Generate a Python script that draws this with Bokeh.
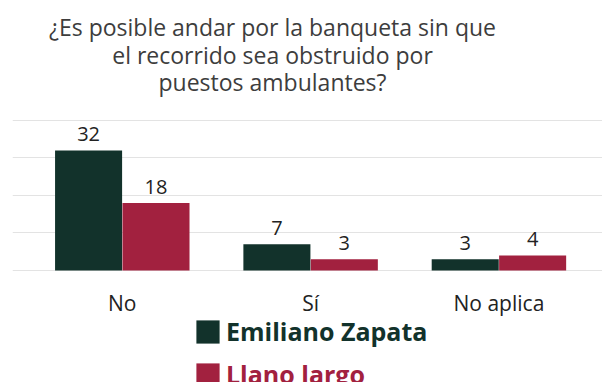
from bokeh.plotting import figure
from bokeh.models import ColumnDataSource, Range1d, FixedTicker, Label, Legend, LegendItem
from bokeh.transform import dodge
from bokeh.core.properties import value
from bokeh.embed import file_html
from bokeh.resources import INLINE

title_lines = ["¿Es posible andar por la banqueta sin que",
               "el recorrido sea obstruido por",
               "puestos ambulantes?"]
categories = ["No", "Sí", "No aplica"]
series_names = ["Emiliano Zapata", "Llano largo"]
emiliano = [32, 7, 3]
llano = [18, 3, 4]
y_ticks = [0, 10, 20, 30, 40]
colors = ["#12322B", "#A2213F"]

FONT = "Open Sans"

x_idx = list(range(len(categories)))
src = ColumnDataSource(dict(
    x=x_idx, ez=emiliano, ll=llano,
    ez_t=[str(v) for v in emiliano], ll_t=[str(v) for v in llano]))

p = figure(width=602, height=382, output_backend="svg", toolbar_location=None,
           x_range=Range1d(-0.583, 2.550), y_range=Range1d(-29.87, 72.0),
           min_border_left=12, min_border_right=0, min_border_top=0,
           min_border_bottom=0)
p.outline_line_color = None
p.background_fill_color = "white"
p.border_fill_color = "white"

off = 0.179
bw = 0.356
r1 = p.vbar(x=dodge('x', -off, range=p.x_range), top='ez', width=bw, source=src,
            fill_color=colors[0], line_color=None)
r2 = p.vbar(x=dodge('x', off, range=p.x_range), top='ll', width=bw, source=src,
            fill_color=colors[1], line_color=None)

for col, o in (("ez", -off), ("ll", off)):
    p.text(x=dodge('x', o, range=p.x_range), y=col, text=col + "_t", source=src,
           text_align="center", text_baseline="alphabetic", y_offset=-16,
           text_font=value(FONT), text_font_size="20px", text_color="#222222")

p.yaxis.visible = False
p.xgrid.visible = False
p.ygrid.ticker = FixedTicker(ticks=y_ticks)
p.ygrid.grid_line_color = "#e3e3e3"
p.ygrid.grid_line_width = 1

ax = p.xaxis[0]
ax.fixed_location = 0
ax.ticker = FixedTicker(ticks=x_idx)
ax.major_label_overrides = {i: c for i, c in enumerate(categories)}
ax.axis_line_color = None
ax.major_tick_line_color = None
ax.minor_tick_line_color = None
ax.major_label_standoff = 13
ax.major_label_text_font = FONT
ax.major_label_text_font_size = "21px"
ax.major_label_text_color = "#222222"

baselines = [355.3, 327.7, 300.3]
for line, yb in zip(title_lines, baselines):
    p.add_layout(Label(x=260, y=yb, x_units="screen", y_units="screen", text=line,
                       text_align="center", text_baseline="alphabetic",
                       text_font=FONT, text_font_size="23px", text_color="#3d3d3d"))

for name, r, c, ly in ((series_names[0], r1, colors[0], 34),
                       (series_names[1], r2, colors[1], -9)):
    lg = Legend(items=[LegendItem(label=name, renderers=[r])], location=(181, ly),
                glyph_width=29, glyph_height=29, label_height=29, label_standoff=4,
                padding=0, margin=0, spacing=0, border_line_color=None,
                background_fill_alpha=0, label_text_font=FONT,
                label_text_font_size="25px", label_text_font_style="bold",
                label_text_color=c)
    p.add_layout(lg)

open("out.html", "w").write(file_html(p, INLINE))
